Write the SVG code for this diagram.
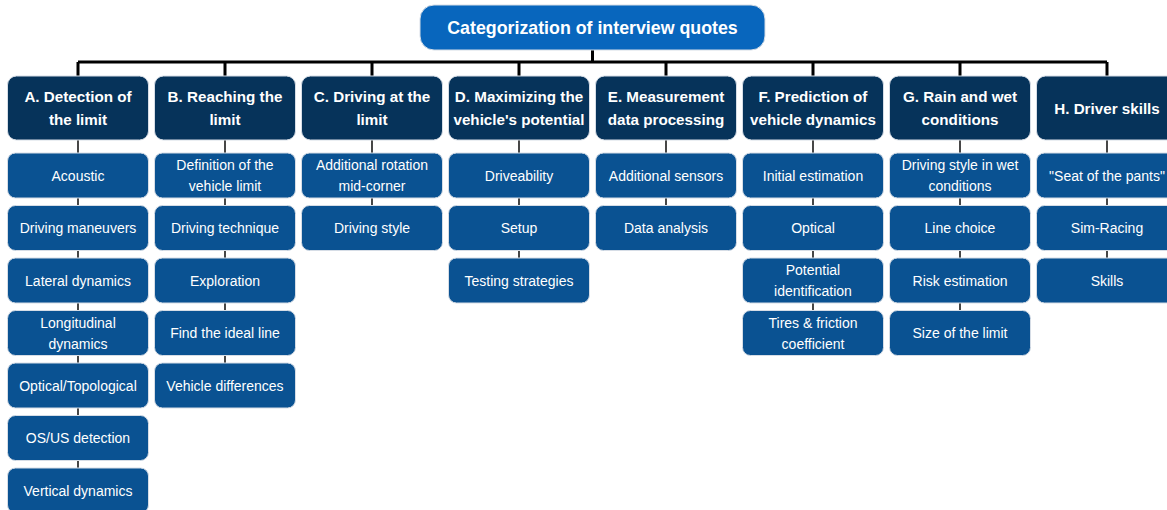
<svg xmlns="http://www.w3.org/2000/svg" width="1167" height="510" viewBox="0 0 1167 510">
<style>
.root{fill:#0866bd;stroke:#d6dde6;stroke-width:1}
.cat{fill:#06335a;stroke:#d6dde6;stroke-width:1}
.item{fill:#0a5292;stroke:#d6dde6;stroke-width:1}
text{font-family:"Liberation Sans",Arial,sans-serif;fill:#ffffff;text-anchor:middle}
.rt{font-size:17.8px;font-weight:bold}
.ct{font-size:15.2px;font-weight:bold}
.it{font-size:14px}
.thick{stroke:#000;stroke-width:3;fill:none}
.thin{stroke:#1a1a1a;stroke-width:1.6;fill:none}
</style>
<rect width="1167" height="510" fill="#ffffff"/>
<g id="connectors">
<path class="thick" d="M592.5 50V62M78 62H1107M78 62V76M225 62V76M372 62V76M519 62V76M666 62V76M813 62V76M960 62V76M1107 62V76"/>
<path class="thin" d="M78 140V468M225 140V363M372 140V205.5M519 140V258M666 140V205.5M813 140V310.5M960 140V310.5M1107 140V258"/>
</g>
<g id="root"><rect class="root" x="420" y="5" width="345" height="45" rx="14"/><text class="rt" x="592.5" y="34">Categorization of interview quotes</text></g>
<g id="catA"><rect class="cat" x="7.5" y="76" width="141" height="64" rx="9"/><text class="ct" x="78" y="102">A. Detection of</text><text class="ct" x="78" y="125">the limit</text></g>
<g id="catB"><rect class="cat" x="154.5" y="76" width="141" height="64" rx="9"/><text class="ct" x="225" y="102">B. Reaching the</text><text class="ct" x="225" y="125">limit</text></g>
<g id="catC"><rect class="cat" x="301.5" y="76" width="141" height="64" rx="9"/><text class="ct" x="372" y="102">C. Driving at the</text><text class="ct" x="372" y="125">limit</text></g>
<g id="catD"><rect class="cat" x="448.5" y="76" width="141" height="64" rx="9"/><text class="ct" x="519" y="102">D. Maximizing the</text><text class="ct" x="519" y="125">vehicle's potential</text></g>
<g id="catE"><rect class="cat" x="595.5" y="76" width="141" height="64" rx="9"/><text class="ct" x="666" y="102">E. Measurement</text><text class="ct" x="666" y="125">data processing</text></g>
<g id="catF"><rect class="cat" x="742.5" y="76" width="141" height="64" rx="9"/><text class="ct" x="813" y="102">F. Prediction of</text><text class="ct" x="813" y="125">vehicle dynamics</text></g>
<g id="catG"><rect class="cat" x="889.5" y="76" width="141" height="64" rx="9"/><text class="ct" x="960" y="102">G. Rain and wet</text><text class="ct" x="960" y="125">conditions</text></g>
<g id="catH"><rect class="cat" x="1036.5" y="76" width="141" height="64" rx="9"/><text class="ct" x="1107" y="113.5">H. Driver skills</text></g>

<g id="A1"><rect class="item" x="7.5" y="153" width="141" height="45" rx="8"/><text class="it" x="78" y="180.5">Acoustic</text></g>
<g id="A2"><rect class="item" x="7.5" y="205.5" width="141" height="45" rx="8"/><text class="it" x="78" y="233">Driving maneuvers</text></g>
<g id="A3"><rect class="item" x="7.5" y="258" width="141" height="45" rx="8"/><text class="it" x="78" y="285.5">Lateral dynamics</text></g>
<g id="A4"><rect class="item" x="7.5" y="310.5" width="141" height="45" rx="8"/><text class="it" x="78" y="327.5">Longitudinal</text><text class="it" x="78" y="348.5">dynamics</text></g>
<g id="A5"><rect class="item" x="7.5" y="363" width="141" height="45" rx="8"/><text class="it" x="78" y="390.5">Optical/Topological</text></g>
<g id="A6"><rect class="item" x="7.5" y="415.5" width="141" height="45" rx="8"/><text class="it" x="78" y="443">OS/US detection</text></g>
<g id="A7"><rect class="item" x="7.5" y="468" width="141" height="45" rx="8"/><text class="it" x="78" y="495.5">Vertical dynamics</text></g>

<g id="B1"><rect class="item" x="154.5" y="153" width="141" height="45" rx="8"/><text class="it" x="225" y="170">Definition of the</text><text class="it" x="225" y="191">vehicle limit</text></g>
<g id="B2"><rect class="item" x="154.5" y="205.5" width="141" height="45" rx="8"/><text class="it" x="225" y="233">Driving technique</text></g>
<g id="B3"><rect class="item" x="154.5" y="258" width="141" height="45" rx="8"/><text class="it" x="225" y="285.5">Exploration</text></g>
<g id="B4"><rect class="item" x="154.5" y="310.5" width="141" height="45" rx="8"/><text class="it" x="225" y="338">Find the ideal line</text></g>
<g id="B5"><rect class="item" x="154.5" y="363" width="141" height="45" rx="8"/><text class="it" x="225" y="390.5">Vehicle differences</text></g>

<g id="C1"><rect class="item" x="301.5" y="153" width="141" height="45" rx="8"/><text class="it" x="372" y="170">Additional rotation</text><text class="it" x="372" y="191">mid-corner</text></g>
<g id="C2"><rect class="item" x="301.5" y="205.5" width="141" height="45" rx="8"/><text class="it" x="372" y="233">Driving style</text></g>

<g id="D1"><rect class="item" x="448.5" y="153" width="141" height="45" rx="8"/><text class="it" x="519" y="180.5">Driveability</text></g>
<g id="D2"><rect class="item" x="448.5" y="205.5" width="141" height="45" rx="8"/><text class="it" x="519" y="233">Setup</text></g>
<g id="D3"><rect class="item" x="448.5" y="258" width="141" height="45" rx="8"/><text class="it" x="519" y="285.5">Testing strategies</text></g>

<g id="E1"><rect class="item" x="595.5" y="153" width="141" height="45" rx="8"/><text class="it" x="666" y="180.5">Additional sensors</text></g>
<g id="E2"><rect class="item" x="595.5" y="205.5" width="141" height="45" rx="8"/><text class="it" x="666" y="233">Data analysis</text></g>

<g id="F1"><rect class="item" x="742.5" y="153" width="141" height="45" rx="8"/><text class="it" x="813" y="180.5">Initial estimation</text></g>
<g id="F2"><rect class="item" x="742.5" y="205.5" width="141" height="45" rx="8"/><text class="it" x="813" y="233">Optical</text></g>
<g id="F3"><rect class="item" x="742.5" y="258" width="141" height="45" rx="8"/><text class="it" x="813" y="275">Potential</text><text class="it" x="813" y="296">identification</text></g>
<g id="F4"><rect class="item" x="742.5" y="310.5" width="141" height="45" rx="8"/><text class="it" x="813" y="327.5">Tires &amp; friction</text><text class="it" x="813" y="348.5">coefficient</text></g>

<g id="G1"><rect class="item" x="889.5" y="153" width="141" height="45" rx="8"/><text class="it" x="960" y="170">Driving style in wet</text><text class="it" x="960" y="191">conditions</text></g>
<g id="G2"><rect class="item" x="889.5" y="205.5" width="141" height="45" rx="8"/><text class="it" x="960" y="233">Line choice</text></g>
<g id="G3"><rect class="item" x="889.5" y="258" width="141" height="45" rx="8"/><text class="it" x="960" y="285.5">Risk estimation</text></g>
<g id="G4"><rect class="item" x="889.5" y="310.5" width="141" height="45" rx="8"/><text class="it" x="960" y="338">Size of the limit</text></g>

<g id="H1"><rect class="item" x="1036.5" y="153" width="141" height="45" rx="8"/><text class="it" x="1107" y="180.5">"Seat of the pants"</text></g>
<g id="H2"><rect class="item" x="1036.5" y="205.5" width="141" height="45" rx="8"/><text class="it" x="1107" y="233">Sim-Racing</text></g>
<g id="H3"><rect class="item" x="1036.5" y="258" width="141" height="45" rx="8"/><text class="it" x="1107" y="285.5">Skills</text></g>
</svg>
